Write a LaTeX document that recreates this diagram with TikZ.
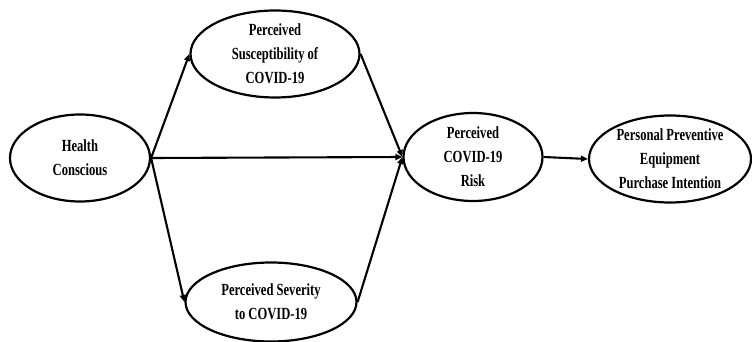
\documentclass[tikz,border=0pt]{standalone}
\usepackage{fontspec}
\setmainfont[FakeStretch=0.74]{Liberation Serif}
\usetikzlibrary{shapes.geometric,arrows.meta}
\begin{document}
\begin{tikzpicture}[x=1pt,y=-1pt,
  construct/.style={ellipse,draw,line width=2.2pt,inner sep=0pt,align=center,
    font=\fontsize{17}{24}\selectfont\bfseries},
  link/.style={line width=2.1pt,-{Triangle[length=7pt,width=6pt]}}]
\useasboundingbox (0,0) rectangle (752,342);
\node[construct,minimum width=140pt,minimum height=87pt] (hc) at (80,158) {Health\\Conscious};
\node[construct,minimum width=169pt,minimum height=87pt] (sus) at (275,54) {Perceived\\Susceptibility of\\COVID-19};
\node[construct,minimum width=171pt,minimum height=79pt] (sev) at (271,302) {Perceived Severity\\to COVID-19};
\node[construct,minimum width=139pt,minimum height=88pt] (risk) at (473,157) {Perceived\\COVID-19\\Risk};
\node[construct,minimum width=162pt,minimum height=87pt] (ppe) at (670,159) {Personal Preventive\\Equipment\\Purchase Intention};
\draw[link] (hc.east) -- (sus.west);
\draw[link] (hc.east) -- (sev.west);
\draw[link] (hc.east) -- (risk.west);
\draw[link] (sus.east) -- (risk.west);
\draw[link] (sev.east) -- (risk.west);
\draw[link] (risk.east) -- (ppe.west);
\end{tikzpicture}
\end{document}
